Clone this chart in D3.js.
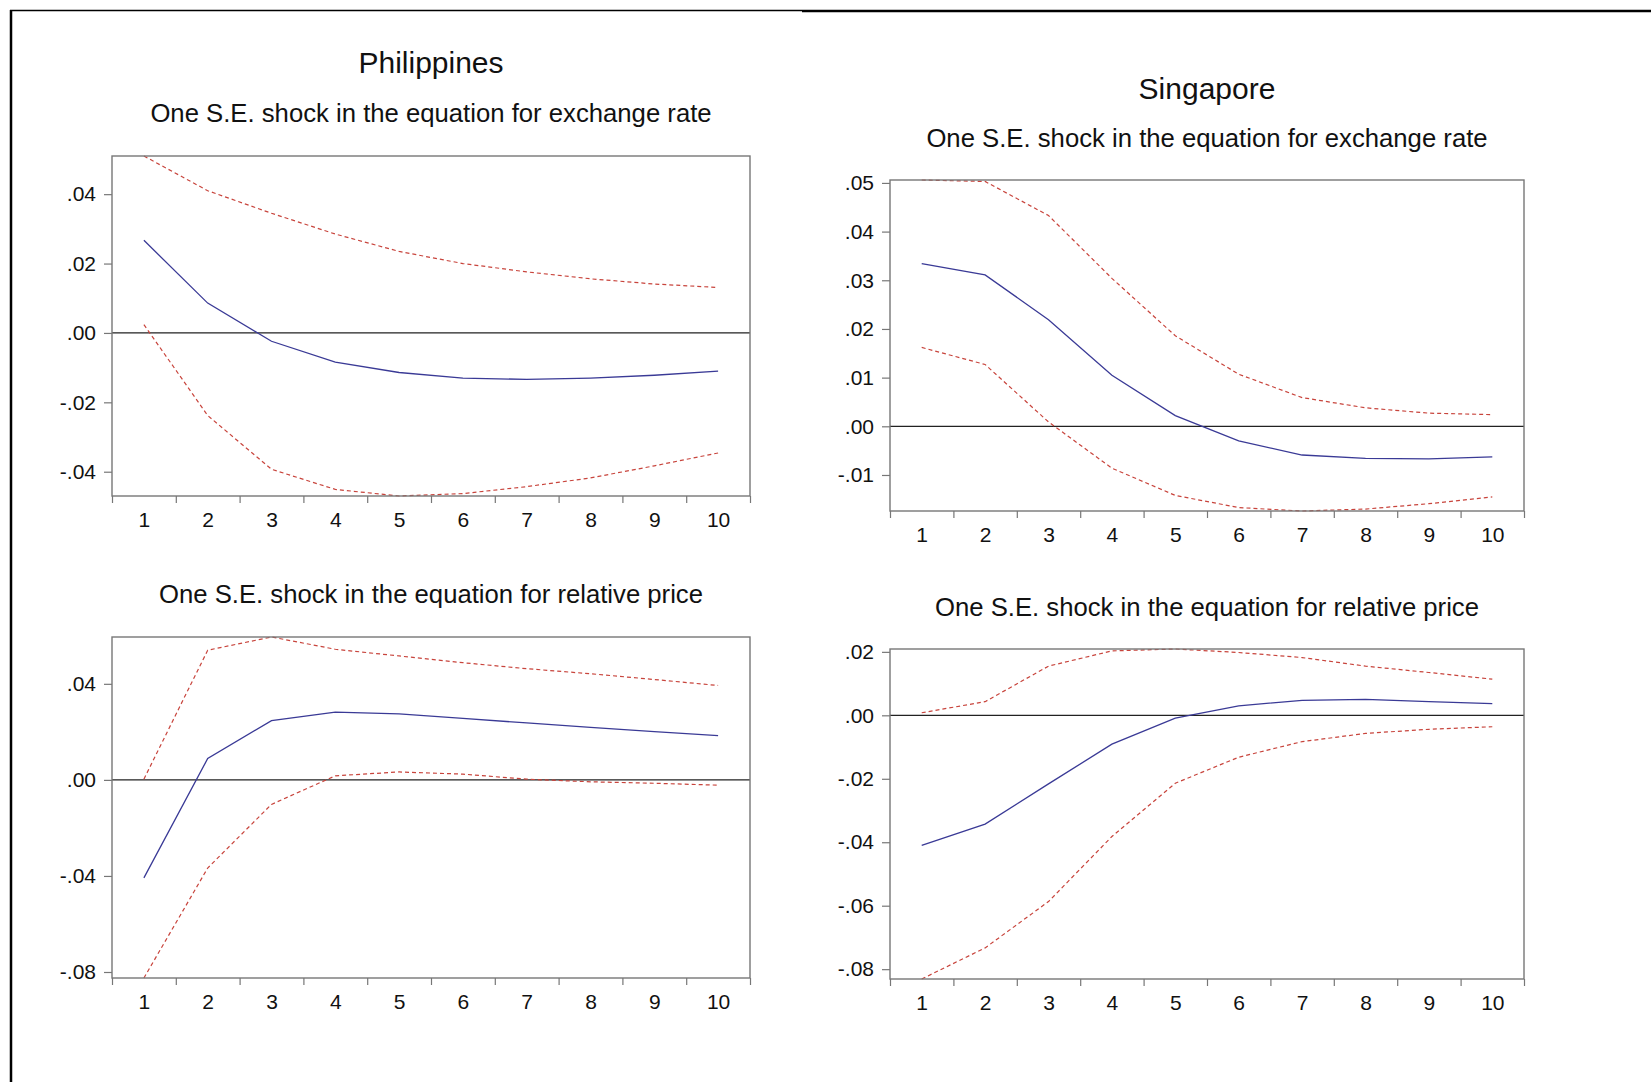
<!DOCTYPE html>
<html>
<head>
<meta charset="utf-8">
<script src="https://cdn.jsdelivr.net/npm/d3@7"></script>
<style>
body { margin: 0; background: #fff; }
svg { display: block; font-family: "Liberation Sans", Arial, sans-serif; }
</style>
</head>
<body>
<div id="chart"></div>
<script>
// horizon steps
var steps = [1, 2, 3, 4, 5, 6, 7, 8, 9, 10];

// Philippines - shock in exchange rate equation
var phlExResp  = [0.0267, 0.0086, -0.0024, -0.0084, -0.0114, -0.0130, -0.0134, -0.0130, -0.0122, -0.0110];
var phlExUpper = [0.0510, 0.0410, 0.0345, 0.0285, 0.0235, 0.0200, 0.0176, 0.0156, 0.0141, 0.0131];
var phlExLower = [0.0024, -0.0238, -0.0393, -0.0451, -0.0470, -0.0463, -0.0443, -0.0418, -0.0383, -0.0346];
var phlExTicks = [-0.04, -0.02, 0, 0.02, 0.04];

// Philippines - shock in relative price equation
var phlRpResp  = [-0.0408, 0.0089, 0.0247, 0.0282, 0.0275, 0.0256, 0.0237, 0.0219, 0.0201, 0.0184];
var phlRpUpper = [0.0003, 0.0540, 0.0595, 0.0544, 0.0516, 0.0488, 0.0463, 0.0442, 0.0418, 0.0393];
var phlRpLower = [-0.0825, -0.0367, -0.0102, 0.0017, 0.0033, 0.0024, 0.0003, -0.0008, -0.0014, -0.0022];
var phlRpTicks = [-0.08, -0.04, 0, 0.04];

// Singapore - shock in exchange rate equation
var sgpExResp  = [0.0334, 0.0311, 0.0219, 0.0105, 0.0022, -0.0030, -0.0059, -0.0066, -0.0067, -0.0063];
var sgpExUpper = [0.0506, 0.0503, 0.0433, 0.0304, 0.0186, 0.0107, 0.0059, 0.0038, 0.0027, 0.0024];
var sgpExLower = [0.0162, 0.0127, 0.0009, -0.0086, -0.0142, -0.0167, -0.0174, -0.0170, -0.0159, -0.0145];
var sgpExTicks = [-0.01, 0, 0.01, 0.02, 0.03, 0.04, 0.05];

// Singapore - shock in relative price equation
var sgpRpResp  = [-0.0410, -0.0343, -0.0216, -0.0091, -0.0009, 0.0030, 0.0047, 0.0050, 0.0043, 0.0037];
var sgpRpUpper = [0.0008, 0.0043, 0.0155, 0.0203, 0.0209, 0.0198, 0.0182, 0.0155, 0.0135, 0.0114];
var sgpRpLower = [-0.0831, -0.0733, -0.0587, -0.0382, -0.0214, -0.0132, -0.0083, -0.0057, -0.0044, -0.0036];
var sgpRpTicks = [-0.08, -0.06, -0.04, -0.02, 0, 0.02];

var countries = ["Philippines", "Singapore"];
var subtitles = ["One S.E. shock in the equation for exchange rate",
                 "One S.E. shock in the equation for relative price"];

var width = 1651, height = 1082;

var panels = [
    {resp: phlExResp, upper: phlExUpper, lower: phlExLower, ticks: phlExTicks,
     box: [112, 156, 750, 496], sub: subtitles[0], subY: 122, title: countries[0], titleY: 73},
    {resp: sgpExResp, upper: sgpExUpper, lower: sgpExLower, ticks: sgpExTicks,
     box: [890, 180, 1524, 511], sub: subtitles[0], subY: 147, title: countries[1], titleY: 99},
    {resp: phlRpResp, upper: phlRpUpper, lower: phlRpLower, ticks: phlRpTicks,
     box: [112, 637, 750, 978], sub: subtitles[1], subY: 603},
    {resp: sgpRpResp, upper: sgpRpUpper, lower: sgpRpLower, ticks: sgpRpTicks,
     box: [890, 649, 1524, 979], sub: subtitles[1], subY: 616}
];

var svg = d3.select("#chart").append("svg")
    .attr("width", width)
    .attr("height", height);

// outer frame (top and left edges only)
svg.append("line").attr("x1", 10).attr("x2", 802).attr("y1", 10.5).attr("y2", 10.5)
    .attr("stroke", "#000").attr("stroke-width", 1.5);
svg.append("line").attr("x1", 802).attr("x2", width).attr("y1", 11).attr("y2", 11)
    .attr("stroke", "#000").attr("stroke-width", 2.5);
svg.append("line").attr("x1", 11).attr("x2", 11).attr("y1", 10).attr("y2", height)
    .attr("stroke", "#000").attr("stroke-width", 2.5);

// EViews style: ".04", "-.02"
var fmt = function(v) {
    return d3.format(".2f")(v).replace("\u2212", "-").replace("0.", ".");
};

panels.forEach(function(p) {
    var x0 = p.box[0], y0 = p.box[1], x1 = p.box[2], y1 = p.box[3];
    var cx = (x0 + x1) / 2;

    if (p.title) {
        svg.append("text")
            .attr("x", cx).attr("y", p.titleY)
            .attr("text-anchor", "middle")
            .attr("font-size", 30)
            .attr("fill", "#111")
            .text(p.title);
    }
    svg.append("text")
        .attr("x", cx).attr("y", p.subY)
        .attr("text-anchor", "middle")
        .attr("font-size", 25.7)
        .attr("fill", "#111")
        .text(p.sub);

    var all = p.resp.concat(p.upper, p.lower);
    var y = d3.scaleLinear().domain(d3.extent(all)).range([y1, y0]);
    var x = d3.scaleLinear().domain([0.5, steps.length + 0.5]).range([x0, x1]);

    // y axis
    var yAxis = svg.append("g")
        .attr("transform", "translate(" + x0 + ",0)")
        .call(d3.axisLeft(y).tickValues(p.ticks).tickSize(8).tickPadding(8).tickFormat(fmt));
    yAxis.select(".domain").remove();
    yAxis.selectAll("line").attr("stroke", "#777").attr("stroke-width", 1.2);
    yAxis.selectAll("text").attr("fill", "#111").attr("font-size", 21)
        .attr("font-family", "Liberation Sans, Arial, sans-serif");

    // x axis: tick marks at category edges, labels at centres
    var edges = d3.range(0, steps.length + 1).map(function(i) { return i + 0.5; });
    var xTicks = svg.append("g")
        .attr("transform", "translate(0," + y1 + ")")
        .call(d3.axisBottom(x).tickValues(edges).tickSize(7).tickFormat(""));
    xTicks.select(".domain").remove();
    xTicks.selectAll("line").attr("stroke", "#777").attr("stroke-width", 1.2);

    var xLabels = svg.append("g")
        .attr("transform", "translate(0," + y1 + ")")
        .call(d3.axisBottom(x).tickValues(steps).tickSize(0).tickPadding(16).tickFormat(d3.format("d")));
    xLabels.select(".domain").remove();
    xLabels.selectAll("text").attr("fill", "#111").attr("font-size", 21)
        .attr("font-family", "Liberation Sans, Arial, sans-serif");

    // zero line
    svg.append("line")
        .attr("x1", x0).attr("x2", x1)
        .attr("y1", y(0)).attr("y2", y(0))
        .attr("stroke", "#222").attr("stroke-width", 1.2);

    var line = d3.line()
        .x(function(d, i) { return x(steps[i]); })
        .y(function(d) { return y(d); });

    [p.upper, p.lower].forEach(function(s) {
        svg.append("path")
            .datum(s)
            .attr("d", line)
            .attr("fill", "none")
            .attr("stroke", "#c8443c")
            .attr("stroke-width", 1.2)
            .attr("stroke-dasharray", "4,3");
    });

    svg.append("path")
        .datum(p.resp)
        .attr("d", line)
        .attr("fill", "none")
        .attr("stroke", "#3a3a96")
        .attr("stroke-width", 1.3);

    // plot frame
    svg.append("rect")
        .attr("x", x0).attr("y", y0)
        .attr("width", x1 - x0).attr("height", y1 - y0)
        .attr("fill", "none")
        .attr("stroke", "#777")
        .attr("stroke-width", 1.4);
});
</script>
</body>
</html>
